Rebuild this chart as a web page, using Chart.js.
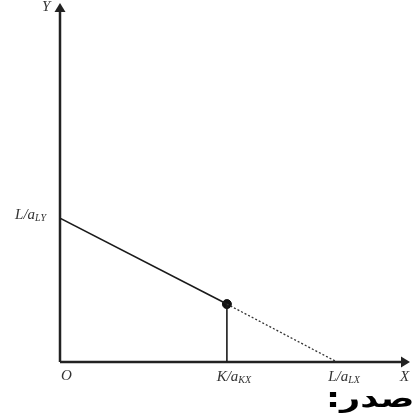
<!DOCTYPE html>
<html>
<head>
<meta charset="utf-8">
<script src="https://cdn.jsdelivr.net/npm/chart.js@4/dist/chart.umd.min.js"></script>
<style>
  html, body { margin: 0; padding: 0; background: #fff; }
  #wrap { position: relative; width: 415px; height: 420px; overflow: hidden; }
  #note { position: absolute; right: 0; top: 383px; font: bold 26px "DejaVu Sans", sans-serif; color: #000; direction: rtl;
          transform: scaleX(1.35); transform-origin: right center; }
</style>
</head>
<body>
<div id="wrap">
  <canvas id="c" width="415" height="420"></canvas>
  <div id="note">صدر:</div>
</div>
<script>
// 軸の範囲
const xMax = 10;
const yMax = 10;

// 目盛りラベル（本体, 下付き文字）
const xTickValues = [0, 4.88, 8.1];
const xTickMain = ["O", "K/a", "L/a"];
const xTickSub = ["", "KX", "LX"];
const yTickValues = [4.1];
const yTickMain = ["L/a"];
const yTickSub = ["LY"];

// 線のデータ
const solidX = [0, 4.88];
const solidY = [4.1, 1.65];
const dottedX = [4.88, 8.1];
const dottedY = [1.65, 0];
const dropX = [4.88, 4.88];
const dropY = [0, 1.65];
const pointX = [4.88];
const pointY = [1.65];

function pts(xs, ys) {
    return xs.map(function (x, i) { return { x: x, y: ys[i] }; });
}

const mainFont = "italic 15px 'Liberation Serif'";
const subFont = "italic 10px 'Liberation Serif'";

// 斜体＋下付き文字を描く
function drawSub(ctx, main, sub, x, y, align) {
    ctx.font = mainFont;
    const w1 = ctx.measureText(main).width;
    ctx.font = subFont;
    const w2 = ctx.measureText(sub).width;
    let start = x;
    if (align === "center") start = x - (w1 + w2) / 2;
    if (align === "right") start = x - (w1 + w2);
    ctx.textAlign = "left";
    ctx.textBaseline = "middle";
    ctx.font = mainFont;
    ctx.fillText(main, start, y);
    ctx.font = subFont;
    ctx.fillText(sub, start + w1, y + 3);
}

// 軸と矢印とラベル
const axesPlugin = {
    id: "axesPlugin",
    beforeDatasetsDraw: function (chart) {
        const ctx = chart.ctx;
        const xs = chart.scales.x;
        const ys = chart.scales.y;
        const x0 = xs.getPixelForValue(0);
        const y0 = ys.getPixelForValue(0);
        const xEnd = xs.getPixelForValue(xMax);
        const yEnd = ys.getPixelForValue(yMax);
        ctx.save();
        ctx.strokeStyle = "#222";
        ctx.fillStyle = "#222";
        ctx.lineWidth = 2.5;
        ctx.beginPath();
        ctx.moveTo(x0, y0);
        ctx.lineTo(x0, yEnd);
        ctx.moveTo(x0, y0);
        ctx.lineTo(xEnd, y0);
        ctx.stroke();
        // 矢印
        ctx.beginPath();
        ctx.moveTo(x0, yEnd - 8);
        ctx.lineTo(x0 - 5.5, yEnd + 1);
        ctx.lineTo(x0 + 5.5, yEnd + 1);
        ctx.closePath();
        ctx.fill();
        ctx.beginPath();
        ctx.moveTo(xEnd + 8, y0);
        ctx.lineTo(xEnd - 1, y0 - 5.5);
        ctx.lineTo(xEnd - 1, y0 + 5.5);
        ctx.closePath();
        ctx.fill();
        ctx.restore();
    },
    afterDraw: function (chart) {
        const ctx = chart.ctx;
        const xs = chart.scales.x;
        const ys = chart.scales.y;
        const y0 = ys.getPixelForValue(0);
        const x0 = xs.getPixelForValue(0);
        ctx.save();
        ctx.fillStyle = "#333";
        xTickValues.forEach(function (v, i) {
            const px = xs.getPixelForValue(v);
            if (i === 0) {
                drawSub(ctx, xTickMain[i], xTickSub[i], px + 1, y0 + 14, "left");
            } else {
                drawSub(ctx, xTickMain[i], xTickSub[i], px + 7, y0 + 15, "center");
            }
        });
        yTickValues.forEach(function (v, i) {
            drawSub(ctx, yTickMain[i], yTickSub[i], x0 - 14, ys.getPixelForValue(v) - 3, "right");
        });
        ctx.font = mainFont;
        ctx.textAlign = "left";
        ctx.textBaseline = "middle";
        ctx.fillText("Y", x0 - 18, ys.getPixelForValue(yMax) - 4);
        ctx.fillText("X", xs.getPixelForValue(xMax) - 2, y0 + 15);
        ctx.restore();
    }
};

new Chart(document.getElementById("c").getContext("2d"), {
    type: "scatter",
    data: {
        datasets: [
            { data: pts(solidX, solidY), showLine: true, borderColor: "#1a1a1a", borderWidth: 1.6, pointRadius: 0 },
            { data: pts(dottedX, dottedY), showLine: true, borderColor: "#333", borderWidth: 1.3, borderDash: [2, 2], pointRadius: 0 },
            { data: pts(dropX, dropY), showLine: true, borderColor: "#1a1a1a", borderWidth: 1.6, pointRadius: 0 },
            { data: pts(pointX, pointY), backgroundColor: "#111", borderColor: "#111", pointRadius: 4.5 }
        ]
    },
    options: {
        responsive: false,
        animation: false,
        layout: { padding: { left: 60, right: 13, top: 11, bottom: 58 } },
        plugins: { legend: { display: false }, tooltip: { enabled: false } },
        scales: {
            x: { type: "linear", min: 0, max: xMax, display: false },
            y: { type: "linear", min: 0, max: yMax, display: false }
        }
    },
    plugins: [axesPlugin]
});
</script>
</body>
</html>
